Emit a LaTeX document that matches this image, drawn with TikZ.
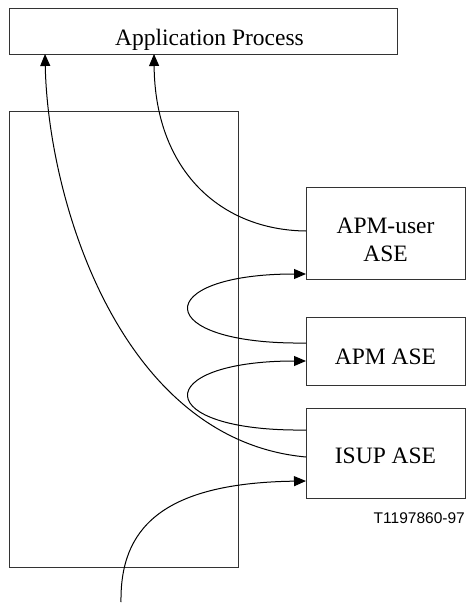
\documentclass[tikz,border=0pt]{standalone}
\usepackage{fontspec}
\setmainfont{Liberation Serif}
\newfontfamily\tagfont{Liberation Sans}
\usetikzlibrary{arrows.meta,calc}
\begin{document}
\begin{tikzpicture}[x=1pt,y=-1pt,
  box/.style={draw=black!80,line width=1pt,rectangle,inner sep=0pt,outer sep=0pt,
    font=\fontsize{23.5pt}{28pt}\selectfont,text depth=0pt},
  flow/.style={draw=black,line width=1pt,-{Triangle[length=12pt,width=10pt]}},
  plain/.style={draw=black,line width=1pt}]
\useasboundingbox (0,0) rectangle (466,603);
\node[box,minimum width=388pt,minimum height=46pt,text height=28pt] (ap) at (203,31) {\hspace*{13pt}Application Process};
\node[box,minimum width=229pt,minimum height=456pt] (proc) at (123.5,339) {};
\node[box,minimum width=159pt,minimum height=92pt,text height=56pt] (apmuser) at (385.5,233)
  {\begin{tabular}[b]{@{}c@{}}APM-user\\ASE\end{tabular}};
\node[box,minimum width=159pt,minimum height=68pt,text height=26pt] (apm) at (385.5,351) {APM ASE};
\node[box,minimum width=159pt,minimum height=90pt,text height=20pt] (isup) at (385.5,453) {ISUP ASE};
\node[anchor=base east,inner sep=0pt,font=\tagfont\fontsize{15.5pt}{18pt}\selectfont] (tag) at (465,523) {T1197860-97};
\coordinate (start) at (121,602);
% APM-user ASE -> Application Process
\draw[flow] ($(apmuser.west)+(0,-2)$) .. controls (220,230) and (155,170) .. ($(ap.south west)+(145,0)$);
% ISUP ASE -> Application Process
\draw[flow] ($(isup.west)+(0,4)$) .. controls (120,440) and (48,200) .. ($(ap.south west)+(36,0)$);
% APM ASE -> APM-user ASE
\draw[flow] ($(apm.west)+(0,-8)$) .. controls (150,345) and (150,274) .. ($(apmuser.south west)+(0,-5)$);
% ISUP ASE -> APM ASE
\draw[flow] ($(isup.north west)+(0,22)$) .. controls (150,432) and (150,361) .. ($(apm.west)+(0,10)$);
% incoming -> ISUP ASE
\draw[flow] (start) .. controls (120,530) and (160,483) .. ($(isup.south west)+(0,-17)$);
\end{tikzpicture}
\end{document}
